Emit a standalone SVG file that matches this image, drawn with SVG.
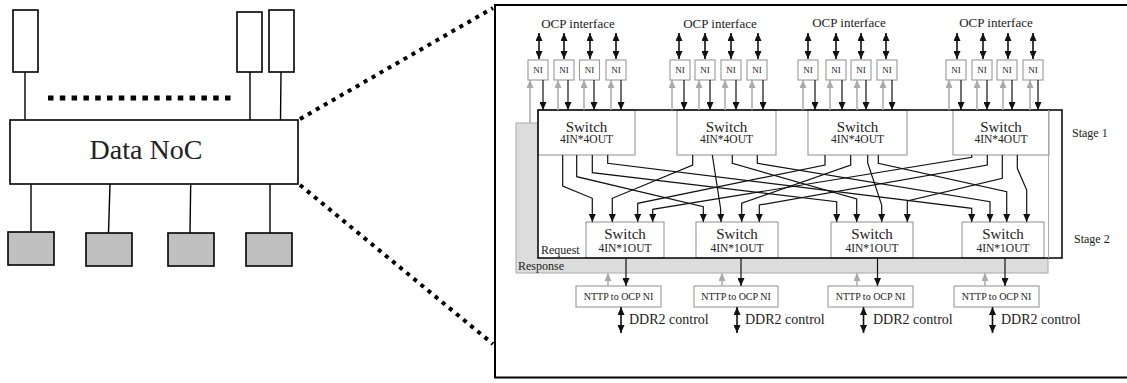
<svg xmlns="http://www.w3.org/2000/svg" width="1127" height="383" viewBox="0 0 1127 383">
<style>
text{font-family:"Liberation Serif","Times New Roman",serif;fill:#222}
.blk{fill:#fff;stroke:#000;stroke-width:1.6}
.gry{fill:#c0c0c0;stroke:#000;stroke-width:1.6}
.ln{stroke:#000;stroke-width:1.4;fill:none}
.dot{stroke:#000;stroke-width:4;stroke-dasharray:4 5.2;fill:none}
.dash{stroke:#000;stroke-width:5;stroke-dasharray:5.5 6.3;fill:none}
.box{fill:#fff;stroke:#999;stroke-width:1.1}
.c{stroke:#111;stroke-width:1.2;fill:none;marker-end:url(#ah)}
.bi{stroke:#111;stroke-width:1.6;fill:none;marker-end:url(#ah);marker-start:url(#ah)}
.g{stroke:#aaa;stroke-width:1.5;fill:none;marker-end:url(#ahg)}
.t15{font-size:15px;text-anchor:middle}
.t11{font-size:11.5px;text-anchor:middle}
.t10{font-size:10px;text-anchor:middle}
.ni{font-size:9px;text-anchor:middle}
</style>
<defs>
<marker id="ah" markerUnits="userSpaceOnUse" viewBox="0 0 8 7" refX="8" refY="3.5" markerWidth="8" markerHeight="7" orient="auto-start-reverse"><path d="M0,0 L8,3.5 L0,7 z" fill="#111"/></marker>
<marker id="ahg" markerUnits="userSpaceOnUse" viewBox="0 0 8 7" refX="8" refY="3.5" markerWidth="8" markerHeight="7" orient="auto"><path d="M0,0 L8,3.5 L0,7 z" fill="#aaa"/></marker>
</defs>

<!-- LEFT OVERVIEW -->
<g id="left-links">
<path class="ln" d="M25,72 V120 M250,72 V120 M281,72 L280.5,120"/>
<path class="ln" d="M31,184 V232 M110,184 L108.5,233 M190.7,184 L190,233 M270,184 V233"/>
<path class="dash" d="M48,98 H236"/>
<path class="dot" d="M300,119 L493,8"/>
<path class="dot" d="M300,185 L493,344"/>
</g>
<g id="ip1"><rect class="blk" x="13" y="10" width="25" height="62"/></g>
<g id="ip2"><rect class="blk" x="237" y="12" width="25" height="60"/></g>
<g id="ip3"><rect class="blk" x="269" y="10" width="25" height="62"/></g>
<g id="datanoc"><rect class="blk" x="10" y="120" width="288" height="64"/><text x="146" y="159" font-size="28" text-anchor="middle">Data NoC</text></g>
<g id="mem1"><rect class="gry" x="8" y="232" width="46" height="33"/></g>
<g id="mem2"><rect class="gry" x="86" y="233" width="46" height="33"/></g>
<g id="mem3"><rect class="gry" x="168" y="233" width="46" height="33"/></g>
<g id="mem4"><rect class="gry" x="246" y="233" width="46" height="33"/></g>

<!-- DETAIL FRAME -->
<g id="frame"><rect x="495" y="5" width="640" height="372.5" fill="none" stroke="#000" stroke-width="2"/></g>

<g id="response"><rect x="516" y="123" width="532" height="150" fill="#dcdcdc" stroke="#aaa" stroke-width="1"/><text x="518" y="270" font-size="12">Response</text></g>
<g id="request"><rect x="538" y="110" width="524" height="148" fill="#fff"/><text x="541" y="254" font-size="12">Request</text></g>

<g id="s1a"><rect class="box" x="538" y="110" width="97" height="45"/><text class="t15" x="586.5" y="132">Switch</text><text class="t11" x="586.5" y="143">4IN*4OUT</text></g>
<g id="s1b"><rect class="box" x="677" y="110" width="99" height="45"/><text class="t15" x="726.5" y="132">Switch</text><text class="t11" x="726.5" y="143">4IN*4OUT</text></g>
<g id="s1c"><rect class="box" x="808" y="110" width="99" height="45"/><text class="t15" x="857.5" y="132">Switch</text><text class="t11" x="857.5" y="143">4IN*4OUT</text></g>
<g id="s1d"><rect class="box" x="953" y="110" width="96" height="45"/><text class="t15" x="1001" y="132">Switch</text><text class="t11" x="1001" y="143">4IN*4OUT</text></g>

<g id="s2a"><rect class="box" x="586" y="222" width="78" height="36"/><text class="t15" x="625" y="239">Switch</text><text class="t11" x="625" y="252">4IN*1OUT</text></g>
<g id="s2b"><rect class="box" x="696" y="222" width="82" height="36"/><text class="t15" x="737" y="239">Switch</text><text class="t11" x="737" y="252">4IN*1OUT</text></g>
<g id="s2c"><rect class="box" x="831" y="222" width="82" height="36"/><text class="t15" x="872" y="239">Switch</text><text class="t11" x="872" y="252">4IN*1OUT</text></g>
<g id="s2d"><rect class="box" x="962" y="222" width="82" height="36"/><text class="t15" x="1003" y="239">Switch</text><text class="t11" x="1003" y="252">4IN*1OUT</text></g>

<g id="request-border"><rect x="538" y="110" width="524" height="148" fill="none" stroke="#000" stroke-width="1.5"/><path d="M1048.5,110 V258" stroke="#aaa" stroke-width="1"/></g>

<g id="stage-labels"><text x="1072" y="137" font-size="12">Stage 1</text><text x="1074" y="243" font-size="12">Stage 2</text></g>

<g id="ocp-labels">
<text x="578" y="28" font-size="13" text-anchor="middle">OCP interface</text>
<text x="720" y="28" font-size="13" text-anchor="middle">OCP interface</text>
<text x="849" y="27" font-size="13" text-anchor="middle">OCP interface</text>
<text x="996" y="27" font-size="13" text-anchor="middle">OCP interface</text>
</g>

<g id="ni1"><rect class="box" x="528" y="60" width="20" height="20"/><text class="ni" x="538" y="73">NI</text></g>
<g id="ni2"><rect class="box" x="554" y="60" width="20" height="20"/><text class="ni" x="564" y="73">NI</text></g>
<g id="ni3"><rect class="box" x="579.5" y="60" width="20" height="20"/><text class="ni" x="589.5" y="73">NI</text></g>
<g id="ni4"><rect class="box" x="606" y="60" width="20" height="20"/><text class="ni" x="616" y="73">NI</text></g>
<g id="ni5"><rect class="box" x="670" y="60" width="20" height="20"/><text class="ni" x="680" y="73">NI</text></g>
<g id="ni6"><rect class="box" x="695" y="60" width="20" height="20"/><text class="ni" x="705" y="73">NI</text></g>
<g id="ni7"><rect class="box" x="721" y="60" width="20" height="20"/><text class="ni" x="731" y="73">NI</text></g>
<g id="ni8"><rect class="box" x="747" y="60" width="20" height="20"/><text class="ni" x="757" y="73">NI</text></g>
<g id="ni9"><rect class="box" x="798" y="60" width="20" height="20"/><text class="ni" x="808" y="73">NI</text></g>
<g id="ni10"><rect class="box" x="826" y="60" width="20" height="20"/><text class="ni" x="836" y="73">NI</text></g>
<g id="ni11"><rect class="box" x="851" y="60" width="20" height="20"/><text class="ni" x="861" y="73">NI</text></g>
<g id="ni12"><rect class="box" x="877" y="60" width="20" height="20"/><text class="ni" x="887" y="73">NI</text></g>
<g id="ni13"><rect class="box" x="946" y="60" width="20" height="20"/><text class="ni" x="956" y="73">NI</text></g>
<g id="ni14"><rect class="box" x="972" y="60" width="20" height="20"/><text class="ni" x="982" y="73">NI</text></g>
<g id="ni15"><rect class="box" x="997" y="60" width="20" height="20"/><text class="ni" x="1007" y="73">NI</text></g>
<g id="ni16"><rect class="box" x="1023" y="60" width="20" height="20"/><text class="ni" x="1033" y="73">NI</text></g>

<g id="nttp1"><rect class="box" x="576" y="286" width="85" height="21"/><text class="t10" x="618.5" y="300">NTTP to OCP NI</text></g>
<g id="nttp2"><rect class="box" x="694" y="286" width="84" height="21"/><text class="t10" x="736" y="300">NTTP to OCP NI</text></g>
<g id="nttp3"><rect class="box" x="828" y="286" width="85" height="21"/><text class="t10" x="870.5" y="300">NTTP to OCP NI</text></g>
<g id="nttp4"><rect class="box" x="954" y="286" width="85" height="21"/><text class="t10" x="996.5" y="300">NTTP to OCP NI</text></g>

<g id="ddr-labels">
<text x="629" y="324" font-size="14">DDR2 control</text>
<text x="745" y="324" font-size="14">DDR2 control</text>
<text x="873" y="324" font-size="14">DDR2 control</text>
<text x="1001" y="324" font-size="14">DDR2 control</text>
</g>

<g id="connectors">
<!-- OCP bidirectional -->
<path class="bi" d="M539,33 V59"/><path class="bi" d="M564,33 V59"/><path class="bi" d="M590,33 V59"/><path class="bi" d="M616,33 V59"/>
<path class="bi" d="M679,33 V59"/><path class="bi" d="M705,33 V59"/><path class="bi" d="M731,33 V59"/><path class="bi" d="M758,33 V59"/>
<path class="bi" d="M808,33 V59"/><path class="bi" d="M836,33 V59"/><path class="bi" d="M861,33 V59"/><path class="bi" d="M886,33 V59"/>
<path class="bi" d="M957,33 V59"/><path class="bi" d="M983,33 V59"/><path class="bi" d="M1008,33 V59"/><path class="bi" d="M1033,33 V59"/>
<!-- NI down to switches -->
<path class="c" d="M543,80 V110"/><path class="c" d="M568,80 V110"/><path class="c" d="M594,80 V110"/><path class="c" d="M621,80 V110"/>
<path class="c" d="M684,80 V110"/><path class="c" d="M710,80 V110"/><path class="c" d="M736,80 V110"/><path class="c" d="M763,80 V110"/>
<path class="c" d="M815,80 V110"/><path class="c" d="M842,80 V110"/><path class="c" d="M866,80 V110"/><path class="c" d="M892,80 V110"/>
<path class="c" d="M961,80 V110"/><path class="c" d="M987,80 V110"/><path class="c" d="M1012,80 V110"/><path class="c" d="M1038,80 V110"/>
<!-- response up to NI -->
<path class="g" d="M530,123 V80"/><path class="g" d="M558,110 V80"/><path class="g" d="M584,110 V80"/><path class="g" d="M611,110 V80"/>
<path class="g" d="M672,110 V80"/><path class="g" d="M699,110 V80"/><path class="g" d="M725,110 V80"/><path class="g" d="M752,110 V80"/>
<path class="g" d="M803,110 V80"/><path class="g" d="M830,110 V80"/><path class="g" d="M857,110 V80"/><path class="g" d="M883,110 V80"/>
<path class="g" d="M949,110 V80"/><path class="g" d="M977,110 V80"/><path class="g" d="M1003,110 V80"/><path class="g" d="M1030,110 V80"/>
<!-- stage1 to stage2 -->
<path class="c" d="M562.7,155 V186 L592.3,198.3 V222"/>
<path class="c" d="M576.7,155 V176.7 L703.3,206.7 V222"/>
<path class="c" d="M592.3,155 V172.7 L836.7,201.7 V222"/>
<path class="c" d="M607.7,155 V163.3 L971.7,208.3 V222"/>
<path class="c" d="M692.7,155 V165 L612.3,198.3 V222"/>
<path class="c" d="M712.3,155 L720.5,208 L721,222"/>
<path class="c" d="M732.3,155 V163.3 L856.7,199 V222"/>
<path class="c" d="M757.3,155 V163.3 L990,201.7 V222"/>
<path class="c" d="M825,155 V165 L637.7,203.3 V222"/>
<path class="c" d="M850.7,155 V165 L741.7,203.3 V222"/>
<path class="c" d="M867.7,155 V163 L881.7,205 V222"/>
<path class="c" d="M878.3,155 V163.3 L1006.7,191.7 V222"/>
<path class="c" d="M971.7,155 V157.3 L652.7,209.3 V222"/>
<path class="c" d="M987.3,155 V165 L759.3,205 V222"/>
<path class="c" d="M1002.3,155 V178.3 L907.3,201 V222"/>
<path class="c" d="M1017.3,155 V168.3 L1026.7,190 V222"/>
<!-- stage2 to NTTP -->
<path class="c" d="M626,258 V286"/><path class="c" d="M741,258 V286"/><path class="c" d="M877.5,258 V286"/><path class="c" d="M1005,258 V286"/>
<path class="g" d="M608,286 V273"/><path class="g" d="M722,286 V273"/><path class="g" d="M857,286 V273"/><path class="g" d="M985,286 V273"/>
<!-- DDR2 bidirectional -->
<path class="bi" d="M621,307 V333"/><path class="bi" d="M737,307 V333"/><path class="bi" d="M863.5,307 V333"/><path class="bi" d="M992.5,307 V333"/>
</g>
</svg>
